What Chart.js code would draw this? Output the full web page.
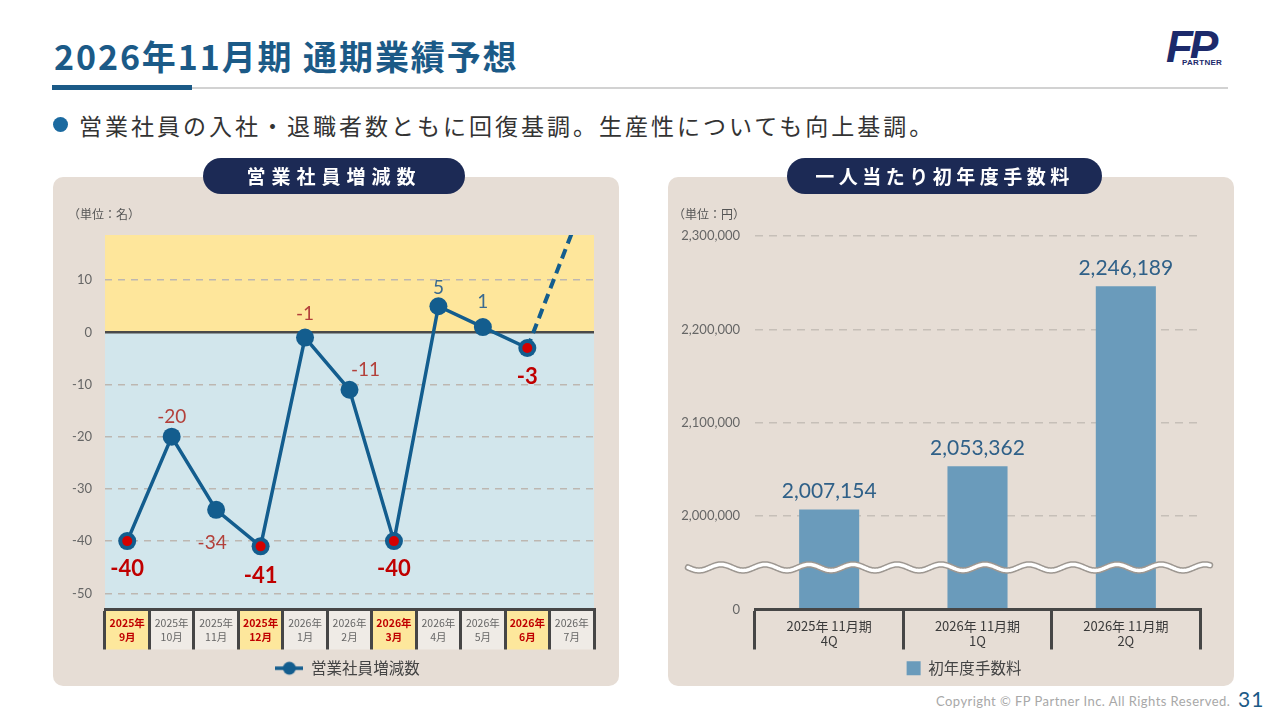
<!DOCTYPE html>
<html lang="ja">
<head>
<meta charset="utf-8">
<script src="https://cdn.jsdelivr.net/npm/chart.js@4/dist/chart.umd.min.js"></script>
<style>
  html,body{margin:0;padding:0;}
  body{width:1280px;height:720px;background:#ffffff;position:relative;overflow:hidden;
       font-family:'Noto Sans CJK JP','Noto Sans',sans-serif;}
  .abs{position:absolute;}
  #title{left:54px;top:33px;font-size:34px;font-weight:bold;color:#1b5a87;letter-spacing:1.9px;line-height:46px;white-space:nowrap;}
  #rule{left:52px;top:87px;width:1176px;height:2px;background:#d2d2d2;}
  #ruleBlue{left:52px;top:85px;width:140px;height:5px;background:#1b5a87;}
  #bulletDot{left:53px;top:117px;width:15px;height:15px;border-radius:50%;background:#1b6aa0;}
  #bulletText{left:79px;top:108px;font-size:23px;color:#333;letter-spacing:3px;line-height:34px;white-space:nowrap;}
  .panel{background:#e6ddd5;border-radius:10px;}
  .pill{background:#1c2a55;border-radius:18px;color:#fff;font-weight:bold;font-size:19px;text-align:center;line-height:36px;height:36px;white-space:nowrap;}
  .unit{font-size:12px;color:#555;white-space:nowrap;}
  #logoFP{left:1166px;top:22px;font-family:'Liberation Sans',sans-serif;font-style:italic;font-weight:bold;font-size:44px;color:#1c2a6b;letter-spacing:-4px;line-height:50px;}
  #logoP{left:1181px;top:58px;font-family:'Liberation Sans',sans-serif;font-weight:bold;font-size:8px;color:#1c2a6b;letter-spacing:0.3px;background:#fff;padding:0 1px;}
  #copy{left:936px;top:693px;font-family:'Lato','Noto Sans',sans-serif;font-size:13px;color:#a8a8a8;white-space:nowrap;letter-spacing:0.45px;}
  #page{left:1238px;top:686px;font-family:'Lato','Noto Sans',sans-serif;font-size:21px;color:#1b5a87;letter-spacing:1px;}
</style>
</head>
<body>
<div id="title" class="abs">2026年11月期 通期業績予想</div>
<div id="rule" class="abs"></div>
<div id="ruleBlue" class="abs"></div>
<div id="bulletDot" class="abs"></div>
<div id="bulletText" class="abs">営業社員の入社・退職者数ともに回復基調。生産性についても向上基調。</div>
<div id="logoFP" class="abs">FP</div>
<div id="logoP" class="abs">PARTNER</div>

<div class="abs panel" style="left:53px;top:177px;width:566px;height:509px;"></div>
<div class="abs panel" style="left:668px;top:177px;width:566px;height:509px;"></div>

<div class="abs" style="left:53px;top:177px;width:566px;height:509px;"><canvas id="memberChart" width="566" height="509"></canvas></div>
<div class="abs" style="left:668px;top:177px;width:566px;height:509px;"><canvas id="feeChart" width="566" height="509"></canvas></div>

<div class="abs pill" style="left:203px;top:158px;width:262px;letter-spacing:6px;">営業社員増減数</div>
<div class="abs pill" style="left:787px;top:158px;width:315px;letter-spacing:4.5px;">一人当たり初年度手数料</div>
<div class="abs unit" style="left:68px;top:205px;">（単位：名）</div>
<div class="abs unit" style="left:673px;top:205px;">（単位：円）</div>

<div id="copy" class="abs">Copyright © FP Partner Inc. All Rights Reserved.</div>
<div id="page" class="abs">31</div>

<script>
// ---------------- data: 営業社員増減数 ----------------
const months = [
  ['2025年','9月'],['2025年','10月'],['2025年','11月'],['2025年','12月'],
  ['2026年','1月'],['2026年','2月'],['2026年','3月'],['2026年','4月'],
  ['2026年','5月'],['2026年','6月'],['2026年','7月']
];
const memberChange   = [-40, -20, -34, -41, -1, -11, -40, 5, 1, -3, null];
const memberForecast = [null, null, null, null, null, null, null, null, null, -3, 19];
const quarterEndMonth = [true, false, false, true, false, false, true, false, false, true, false];
const memberTicks = [10, 0, -10, -20, -30, -40, -50];

// ---------------- data: 一人当たり初年度手数料 ----------------
const feeCategories = [['2025年 11月期','4Q'], ['2026年 11月期','1Q'], ['2026年 11月期','2Q']];
const feeValues = [2007154, 2053362, 2246189];
const feeTickLabels = ['0', '2,000,000', '2,100,000', '2,200,000', '2,300,000'];
const feeAxisBreak = 2000000;

// ---------------- styles (kept apart from data) ----------------
const NAVY = '#135d8e';
const memberLabelOffset = [[0,28],[0,-20],[-4,33],[0,30],[0,-24],[16,-20],[0,28],[0,-18],[0,-25],[0,29]];
const NUM_FONT = "'Lato','Noto Sans',sans-serif";
Chart.defaults.font.family = "'Noto Sans CJK JP','Noto Sans',sans-serif";

// broken axis mapping: 0 .. 2,000,000 compressed into one step
function toBrokenAxis(v){ return v >= feeAxisBreak ? 1 + (v - feeAxisBreak) / 100000 : v / feeAxisBreak; }

// legend marker (line + circle)
const lineMarker = document.createElement('canvas');
lineMarker.width = 28; lineMarker.height = 16;
(function(){
  const c = lineMarker.getContext('2d');
  c.strokeStyle = NAVY; c.lineWidth = 3.5;
  c.beginPath(); c.moveTo(0,8); c.lineTo(28,8); c.stroke();
  c.fillStyle = NAVY; c.beginPath(); c.arc(14,8,6.5,0,Math.PI*2); c.fill();
})();

function legendShift(dx){
  return { id:'legendShift', afterLayout(chart){ if(chart.legend){ chart.legend.left += dx; chart.legend.right += dx; } } };
}

// ---------------- left chart ----------------
const memberBg = {
  id:'memberBg',
  beforeDraw(chart){
    const {ctx, chartArea:a, scales:{x, y}} = chart;
    const y0 = y.getPixelForValue(0);
    ctx.save();
    ctx.fillStyle = '#fee69b';
    ctx.fillRect(a.left, a.top, a.right - a.left, y0 - a.top);
    ctx.fillStyle = '#d2e6ec';
    ctx.fillRect(a.left, y0, a.right - a.left, a.bottom - y0);
    const half = (x.getPixelForValue(1) - x.getPixelForValue(0)) / 2;
    months.forEach((m, i) => {
      ctx.fillStyle = quarterEndMonth[i] ? '#fde79c' : '#efebe6';
      const cx = x.getPixelForValue(i);
      ctx.fillRect(cx - half, a.bottom, half * 2, 40);
    });
    ctx.restore();
  },
  beforeDatasetsDraw(chart){
    const {ctx, chartArea:a, scales:{y}} = chart;
    const y0 = y.getPixelForValue(0);
    ctx.save();
    ctx.strokeStyle = '#4a4a4a'; ctx.lineWidth = 2.5;
    ctx.beginPath(); ctx.moveTo(a.left, y0); ctx.lineTo(a.right, y0); ctx.stroke();
    ctx.restore();
  },
  afterDatasetsDraw(chart){
    const ctx = chart.ctx;
    const meta = chart.getDatasetMeta(1);
    ctx.save();
    ctx.textAlign = 'center'; ctx.textBaseline = 'middle';
    meta.data.forEach((pt, i) => {
      const v = memberChange[i];
      if (v === null || v === undefined) return;
      const bold = quarterEndMonth[i];
      const off = memberLabelOffset[i];
      ctx.font = (bold ? 'bold 22px ' : '19px ') + NUM_FONT;
      ctx.fillStyle = v > 0 ? '#3a6a90' : (bold ? '#c00000' : '#b3403a');
      ctx.fillText(String(v), pt.x + off[0], pt.y + off[1]);
    });
    ctx.restore();
  }
};

new Chart(document.getElementById('memberChart'), {
  type:'line',
  data:{
    labels: months,
    datasets:[
      { label:'quarter', data: memberChange.map((v,i) => quarterEndMonth[i] ? v : null),
        showLine:false, pointRadius:5, pointBackgroundColor:'#d40000', pointBorderWidth:0, pointHoverRadius:5 },
      { label:'営業社員増減数', data: memberChange, borderColor: NAVY, backgroundColor: NAVY,
        borderWidth:3.5, pointRadius:9, pointHoverRadius:9, pointBackgroundColor: NAVY, pointBorderWidth:0, tension:0 },
      { label:'forecast', data: memberForecast, borderColor: NAVY, borderWidth:4, borderDash:[10,6],
        pointRadius:0, pointHoverRadius:0, tension:0 }
    ]
  },
  options:{
    responsive:false, animation:false, devicePixelRatio:1,
    layout:{ padding:{ top:58, right:25, left:0, bottom:0 } },
    plugins:{
      tooltip:{enabled:false},
      legend:{
        position:'bottom',
        labels:{
          filter: item => item.text === '営業社員増減数',
          usePointStyle:true, pointStyle: lineMarker, pointStyleWidth:28,
          color:'#444', font:{size:15.5}, padding:9
        }
      }
    },
    scales:{
      x:{
        type:'category', offset:true,
        grid:{ offset:true, drawOnChartArea:false, drawTicks:true, tickLength:40, color:'#464646', lineWidth:3, z:1 },
        border:{ display:true, color:'#464646', width:3, z:1 },
        ticks:{
          autoSkip:false, maxRotation:0, padding:-33,
          color: c => quarterEndMonth[c.index] ? '#c00000' : '#666',
          font: c => ({ size:10.5, weight: quarterEndMonth[c.index] ? 'bold' : 'normal', lineHeight:1.3 })
        },
        afterFit: s => { s.height = 42; }
      },
      y:{
        min:-53.1, max:18.65,
        ticks:{ stepSize:10, color:'#666', font:{ size:13, family: NUM_FONT }, padding:13 },
        afterBuildTicks: s => { s.ticks = memberTicks.map(v => ({ value:v })); },
        grid:{ drawTicks:false, lineWidth:1.5, color: c => (c.tick && c.tick.value === 0) ? 'rgba(0,0,0,0)' : '#bdb7b1' },
        border:{ display:false, dash:[7,6] },
        afterFit: s => { s.width = 52; }
      }
    }
  },
  plugins:[memberBg, legendShift(24)]
});

// ---------------- right chart ----------------
const feePlugin = {
  id:'feeDeco',
  afterDatasetsDraw(chart){
    const {ctx, scales:{y}} = chart;
    const meta = chart.getDatasetMeta(0);
    ctx.save();
    ctx.textAlign = 'center'; ctx.textBaseline = 'middle';
    ctx.font = '21px ' + NUM_FONT;
    ctx.fillStyle = '#2f6088';
    meta.data.forEach((bar, i) => {
      ctx.fillText(feeValues[i].toLocaleString('en-US'), bar.x, bar.y - 18);
    });
    // axis break wave
    const wy = y.getPixelForValue(0.45);
    const x0 = 20, x1 = 542, period = 44, amp = 3;
    const path = () => {
      ctx.beginPath();
      for (let px = x0; px <= x1; px += 1) {
        const py = wy + amp * Math.sin((px - x0) / period * Math.PI * 2);
        if (px === x0) ctx.moveTo(px, py); else ctx.lineTo(px, py);
      }
    };
    ctx.lineCap = 'round';
    path(); ctx.strokeStyle = '#9d9791'; ctx.lineWidth = 6.5; ctx.stroke();
    path(); ctx.strokeStyle = '#ffffff'; ctx.lineWidth = 3.5; ctx.stroke();
    ctx.restore();
  }
};

new Chart(document.getElementById('feeChart'), {
  type:'bar',
  data:{
    labels: feeCategories,
    datasets:[{
      label:'初年度手数料',
      data: feeValues.map(toBrokenAxis),
      backgroundColor:'#6a9bbb', borderWidth:0,
      categoryPercentage:1, barPercentage:0.405
    }]
  },
  options:{
    responsive:false, animation:false, devicePixelRatio:1,
    layout:{ padding:{ top:59, right:34, left:0, bottom:0 } },
    plugins:{
      tooltip:{enabled:false},
      legend:{
        position:'bottom',
        labels:{ boxWidth:14, boxHeight:14, color:'#444', font:{size:15.5}, padding:9 }
      }
    },
    scales:{
      x:{
        type:'category', offset:true,
        grid:{ offset:true, drawOnChartArea:false, drawTicks:true, tickLength:40, color:'#464646', lineWidth:3, z:1 },
        border:{ display:true, color:'#464646', width:3, z:1 },
        ticks:{ autoSkip:false, maxRotation:0, padding:-31, color:'#3a3a3a', font:{ size:13, lineHeight:1.15 } },
        afterFit: s => { s.height = 42; }
      },
      y:{
        min:0, max:4,
        ticks:{ stepSize:1, color:'#666', font:{ size:13, family: NUM_FONT }, padding:15,
                callback: v => feeTickLabels[v] },
        grid:{ drawTicks:false, lineWidth:1.5, color: c => (c.tick && c.tick.value === 0) ? 'rgba(0,0,0,0)' : '#c6bfb8' },
        border:{ display:false, dash:[8,6] },
        afterFit: s => { s.width = 87; }
      }
    }
  },
  plugins:[feePlugin, legendShift(30)]
});
</script>
</body>
</html>
